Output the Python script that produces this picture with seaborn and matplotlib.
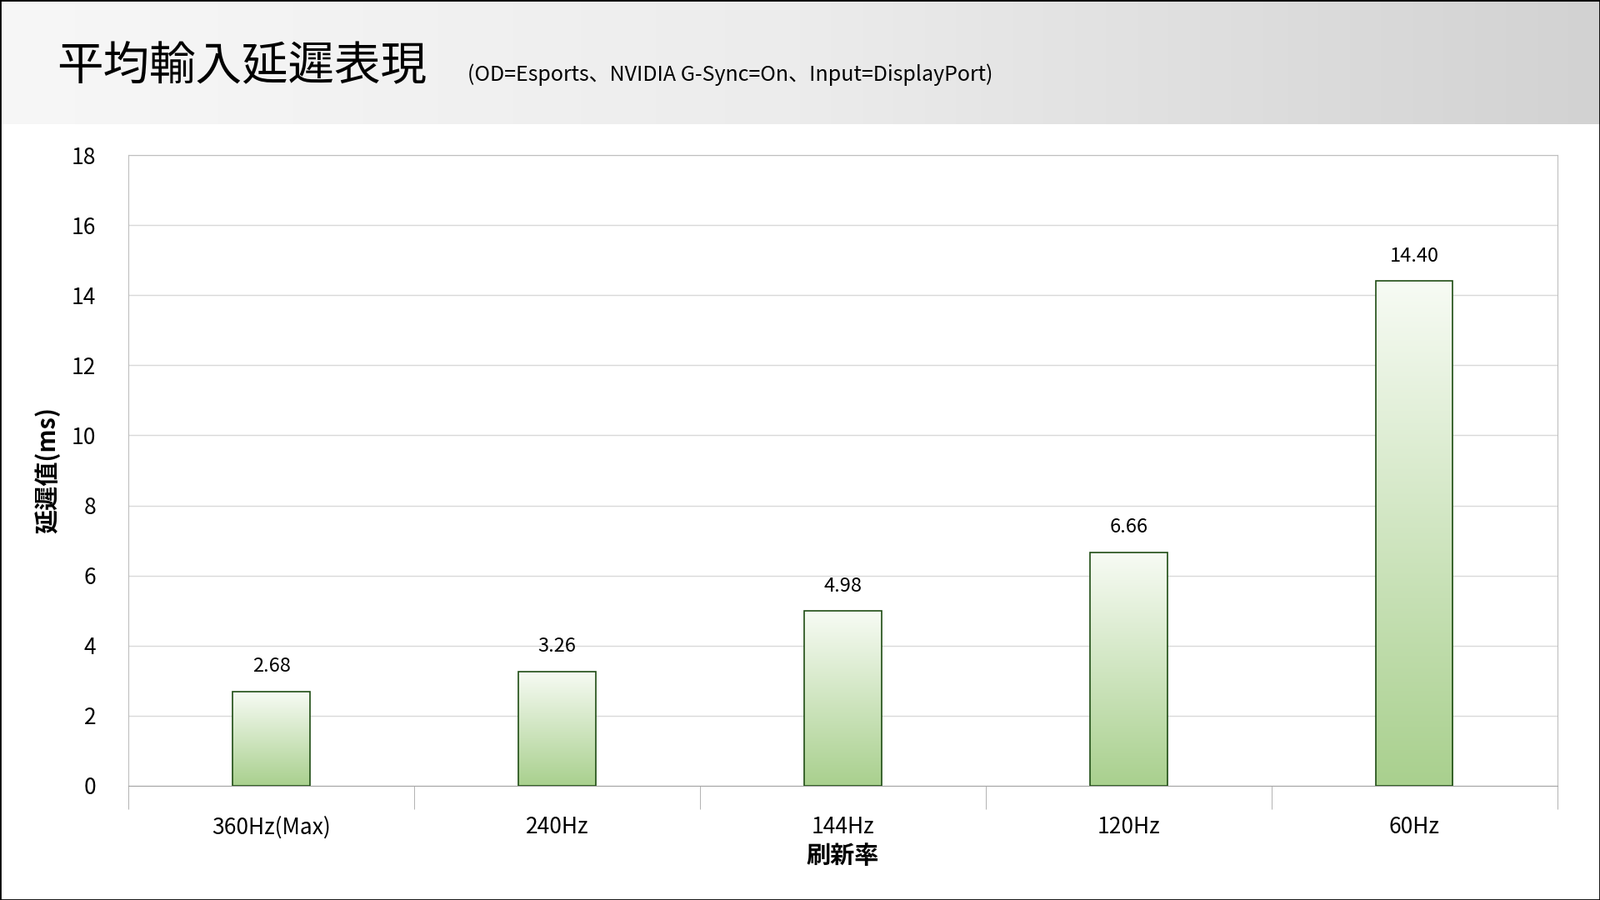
import matplotlib.pyplot as plt
import numpy as np
import pandas as pd
import seaborn as sns
from matplotlib.colors import LinearSegmentedColormap
from matplotlib.patches import Rectangle

plt.rcParams['font.family'] = ['Noto Sans CJK TC', 'Noto Sans CJK JP', 'Noto Sans CJK SC',
                               'Noto Sans CJK KR', 'DejaVu Sans']

# Chart data
rates = ['360Hz(Max)', '240Hz', '144Hz', '120Hz', '60Hz']
latency = [2.68, 3.26, 4.98, 6.66, 14.40]
yticks = [0, 2, 4, 6, 8, 10, 12, 14, 16, 18]

df = pd.DataFrame({'rate': rates, 'latency': latency})

fig = plt.figure(figsize=(19.2, 10.8), dpi=100)
fig.patch.set_facecolor('white')

# Header band with horizontal gray gradient
hdr = fig.add_axes([0, 1 - 122 / 882, 1, 122 / 882])
grad = np.linspace(0, 1, 256).reshape(1, -1)
hdr.imshow(grad, aspect='auto', extent=[0, 1, 0, 1],
           cmap=LinearSegmentedColormap.from_list('g', ['#f7f7f7', '#ececec', '#d2d2d2']))
hdr.set_axis_off()
fig.text(56 / 1568, 1 - 66 / 882, '平均輸入延遲表現', fontsize=40, va='center', ha='left')
fig.text(458 / 1568, 1 - 73 / 882, '(OD=Esports、NVIDIA G-Sync=On、Input=DisplayPort)',
         fontsize=18, va='center', ha='left')

ax = fig.add_axes([126 / 1568, 1 - 770 / 882, 1400 / 1568, 618 / 882])
sns.barplot(data=df, x='rate', y='latency', ax=ax, width=0.27,
            color='white', edgecolor='#1f4d14', linewidth=1.2, zorder=3)

cmap = LinearSegmentedColormap.from_list('bar', ['#a9d08e', '#f7fbf4'])
for p, v in zip(ax.patches, latency):
    x0, w, h = p.get_x(), p.get_width(), p.get_height()
    img = ax.imshow(np.linspace(0, 1, 256).reshape(-1, 1), aspect='auto', cmap=cmap,
                    extent=[x0, x0 + w, 0, h], origin='lower', zorder=2.5)
    img.set_clip_path(p)
    p.set_facecolor('none')
    ax.text(x0 + w / 2, h + 0.45, f'{v:.2f}', ha='center', va='bottom', fontsize=17)

ax.set_xlim(-0.5, 4.5)
ax.set_ylim(0, 18)
ax.set_yticks(yticks)
ax.grid(axis='y', color='#d9d9d9', linewidth=1, zorder=0)
ax.set_axisbelow(True)
for s in ['top', 'right', 'left']:
    ax.spines[s].set_color('#bfbfbf')
ax.spines['bottom'].set_color('#a6a6a6')
ax.tick_params(axis='y', length=0, labelsize=19, pad=28)
ax.set_xticks(np.arange(-0.5, 5, 1), minor=True)
ax.tick_params(axis='x', which='major', length=0, labelsize=19, pad=26)
ax.tick_params(axis='x', which='minor', length=20, color='#a6a6a6', direction='out')
ax.set_xlabel('刷新率', fontsize=21, fontweight='bold', labelpad=4)
ax.set_ylabel('延遲值(ms)', fontsize=21, fontweight='bold', labelpad=10)

fig.add_artist(Rectangle((0, 0), 1, 1, transform=fig.transFigure, fill=False,
                         edgecolor='black', linewidth=2))

fig.savefig('out.png', dpi=100)
